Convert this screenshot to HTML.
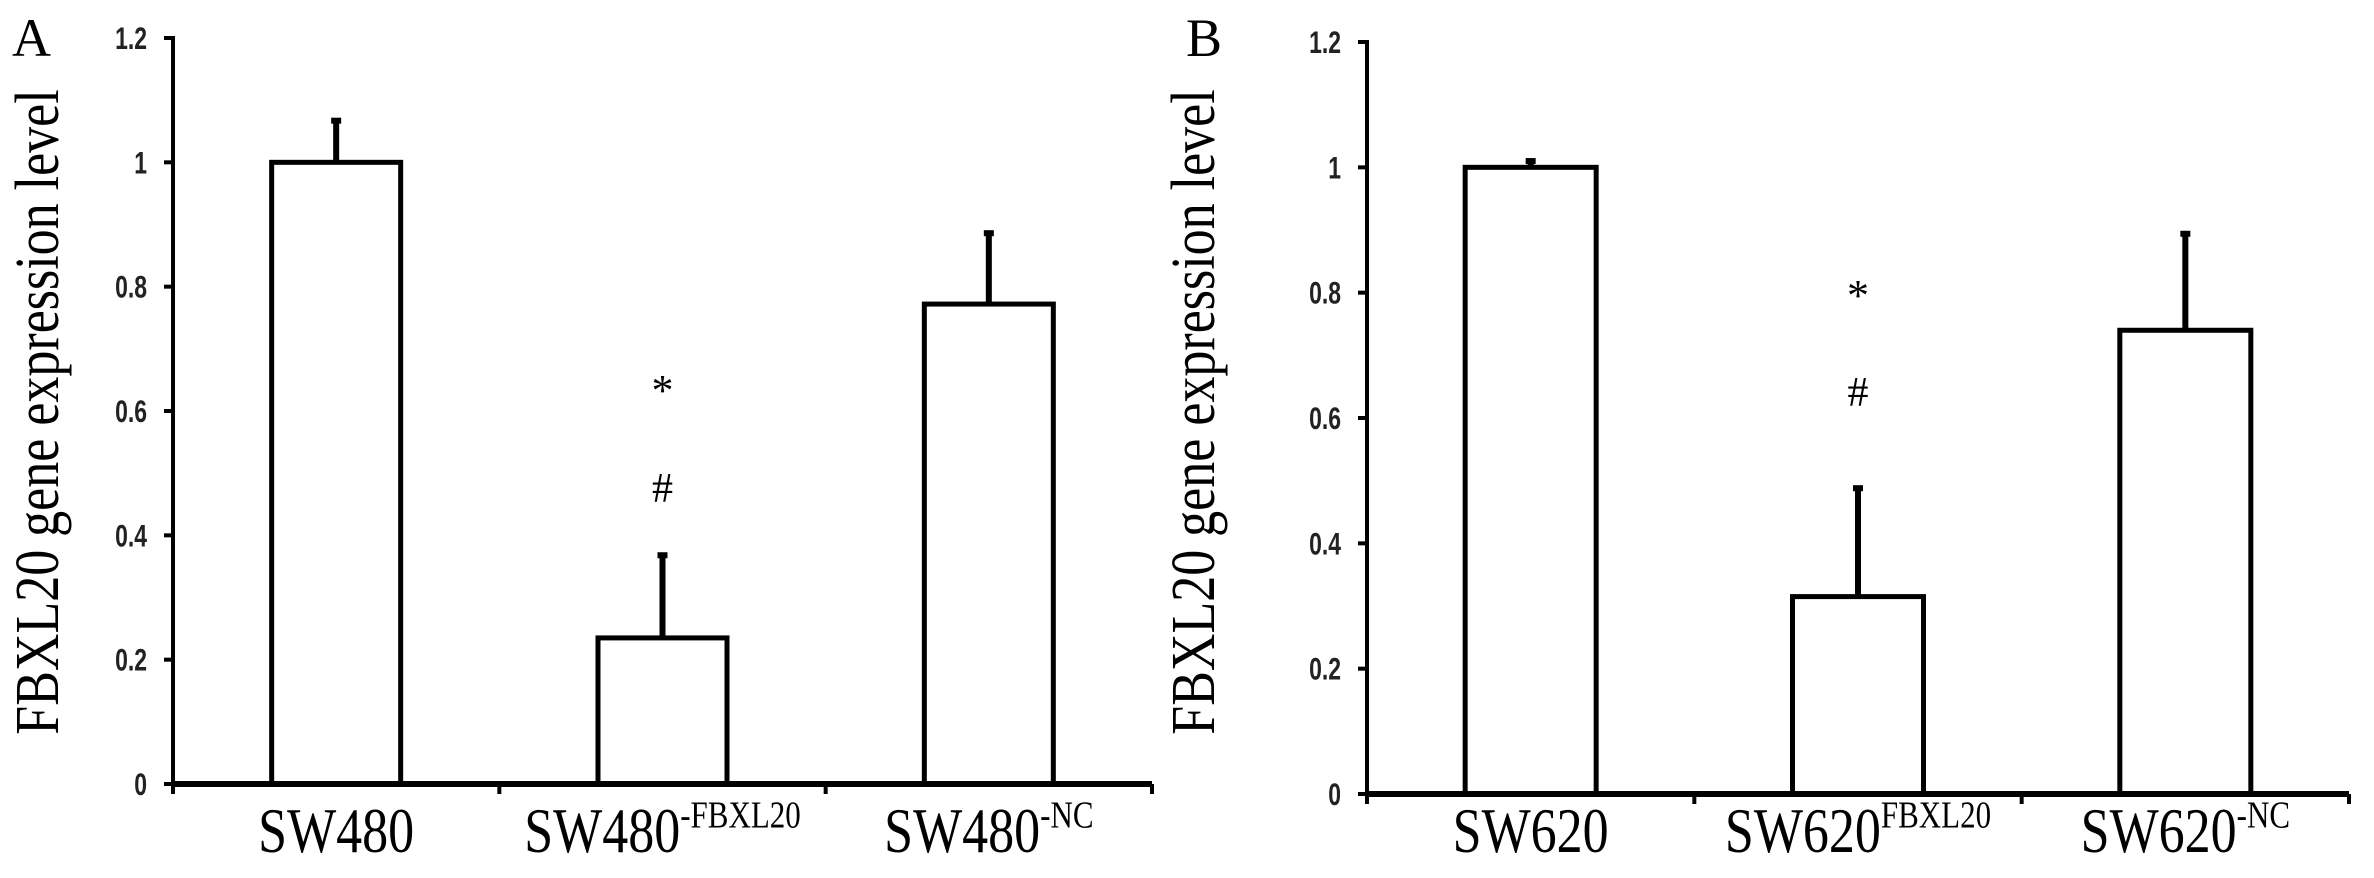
<!DOCTYPE html>
<html><head><meta charset="utf-8"><style>
html,body{margin:0;padding:0;background:#fff;width:2374px;height:878px;overflow:hidden}
svg{display:block}
</style></head><body>
<svg id="fig" width="2374" height="878" xmlns="http://www.w3.org/2000/svg">
<rect width="2374" height="878" fill="#fff"/>
</svg>
<script>
const categoriesA = ["SW480", "SW480", "SW480"];
const supA = ["", "-FBXL20", "-NC"];
const valuesA = [1.0, 0.235, 0.772];
const errorsA = [0.067, 0.133, 0.114];
const categoriesB = ["SW620", "SW620", "SW620"];
const supB = ["", "FBXL20", "-NC"];
const valuesB = [1.0, 0.315, 0.74];
const errorsB = [0.01, 0.173, 0.154];
const yTicks = [0, 0.2, 0.4, 0.6, 0.8, 1, 1.2];
const yTickLabels = ["0", "0.2", "0.4", "0.6", "0.8", "1", "1.2"];

const NS = "http://www.w3.org/2000/svg";
const svg = document.getElementById('fig');
function mk(tag, attrs, parent, text){
  const e = document.createElementNS(NS, tag);
  for (const k in attrs) e.setAttribute(k, attrs[k]);
  if (text !== undefined) e.textContent = text;
  (parent || svg).appendChild(e);
  return e;
}

function panel(p){
  const g = mk('g', {});
  
  
  const y = v => p.y0 - v * (p.y0 - p.yTop) / 1.2;
  const slot = (p.xEnd - p.ax) / 3;
  const xc = i => p.ax + slot * (i + 0.5);
  const bw = p.bw;

  const L = mk('text', {x: p.letterX, y: 56, 'font-family': '"Liberation Serif", serif', 'font-size': 54}, g, p.letter);
  
  

  const t = mk('text', {x: 0, y: 0, transform: `translate(${p.titleX},${412}) rotate(-90) scale(1,1.2)`, 'text-anchor': 'middle', 'font-family': '"Liberation Serif", serif', 'font-size': 52}, g, 'FBXL20 gene expression level');
  
  

  yTicks.forEach((v, i) => {
    const tk = mk('line', {x1: p.ax - 9, x2: p.ax, y1: y(v), y2: y(v), stroke: '#000', 'stroke-width': 4}, g);
    
    
    const tl = mk('text', {x: 0, y: 0, transform: `translate(${p.ax - 26},${y(v) + 11}) scale(0.85,1.15)`, 'text-anchor': 'end', 'font-family': '"Liberation Sans", sans-serif', 'font-size': 27, 'font-weight': 'bold', fill: '#222'}, g, yTickLabels[i]);
    
    
  });

  p.values.forEach((v, i) => {
    const b = mk('rect', {x: xc(i) - bw/2, y: y(v), width: bw, height: y(0) - y(v), fill: '#fff', stroke: '#000', 'stroke-width': 5}, g);
    
    
    const e = mk('line', {x1: xc(i), x2: xc(i), y1: y(v), y2: y(v + p.errors[i]), stroke: '#000', 'stroke-width': 6}, g);
    
    
    const c = mk('rect', {x: xc(i) - 5, y: y(v + p.errors[i]) - 3, width: 10, height: 6, fill: '#000'}, g);
    
    
    const lab = mk('text', {x: 0, y: 0, transform: `translate(${xc(i)},852) scale(1,1.22)`, 'text-anchor': 'middle', 'font-family': '"Liberation Serif", serif', 'font-size': 52}, g);
    
    
    mk('tspan', {}, lab, p.cats[i]);
    if (p.sups[i]) mk('tspan', {dy: -20, 'font-size': 31}, lab, p.sups[i]);
  });

  const ya = mk('line', {x1: p.ax, x2: p.ax, y1: p.yTop - 2, y2: y(0) + 3, stroke: '#000', 'stroke-width': 4}, g);
  
  
  const xa = mk('line', {x1: p.ax - 2, x2: p.xEnd, y1: y(0), y2: y(0), stroke: '#000', 'stroke-width': 6}, g);
  
  
  for (let k = 0; k <= 3; k++) {
    const xt = mk('line', {x1: p.ax + slot*k, x2: p.ax + slot*k, y1: y(0), y2: y(0) + 10, stroke: '#000', 'stroke-width': 4}, g);
    
    
  }

  const s = mk('text', {x: xc(1), y: p.starY, 'text-anchor': 'middle', 'font-family': '"Liberation Serif", serif', 'font-size': 44}, g, '*');
  
  
  const h = mk('text', {x: xc(1), y: p.hashY, 'text-anchor': 'middle', 'font-family': '"Liberation Serif", serif', 'font-size': 42}, g, '#');
  
  
}

panel({id: 'a', letter: 'A', letterX: 12, titleX: 58, ax: 173, xEnd: 1152, yTop: 38, y0: 784, bw: 129,
  values: valuesA, errors: errorsA, cats: categoriesA, sups: supA, starY: 405, hashY: 502});
panel({id: 'b', letter: 'B', letterX: 1186, titleX: 1214, ax: 1367, xEnd: 2349, yTop: 42, y0: 794, bw: 131,
  values: valuesB, errors: errorsB, cats: categoriesB, sups: supB, starY: 310, hashY: 406});
</script>
</body></html>
